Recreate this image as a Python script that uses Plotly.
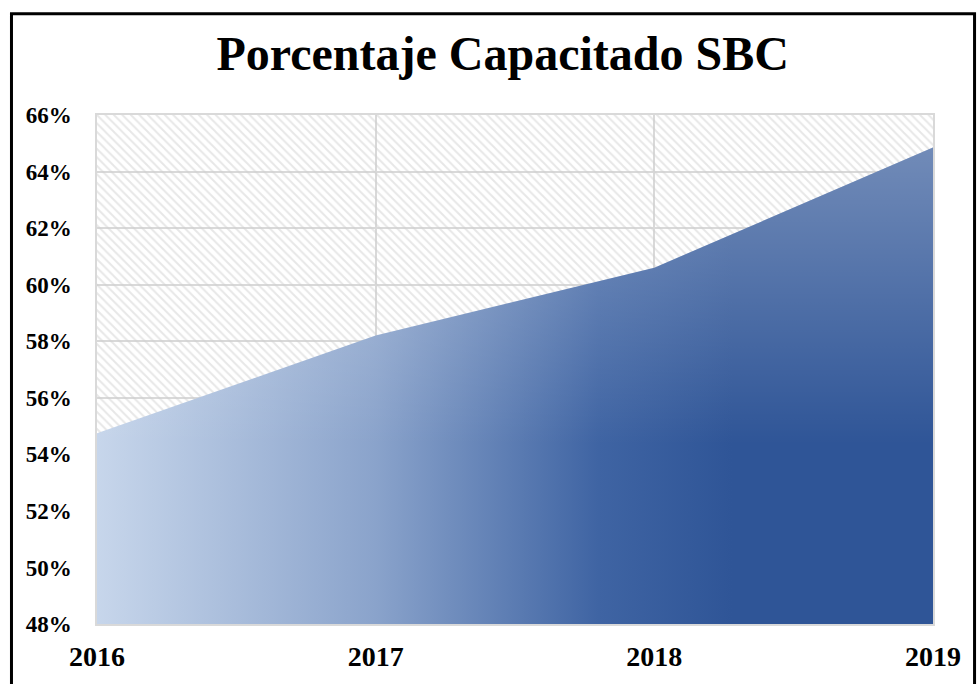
import plotly.graph_objects as go

# Share of staff trained (SBC), by year
years = [2016, 2017, 2018, 2019]
porcentaje = [54.75, 58.2, 60.6, 64.85]

y_ticks = [48, 50, 52, 54, 56, 58, 60, 62, 64, 66]
y_tick_labels = ["48%", "50%", "52%", "54%", "56%", "58%", "60%", "62%", "64%", "66%"]
x_tick_labels = ["2016", "2017", "2018", "2019"]

X_MIN, X_MAX = years[0], years[-1]
Y_MIN, Y_MAX = y_ticks[0], y_ticks[-1]

serif = "Liberation Serif, DejaVu Serif, serif"
grid = "#d9d9d9"

fig = go.Figure()

# Hatched background across the whole plotting region
fig.add_trace(go.Scatter(
    x=[X_MIN, X_MAX, X_MAX, X_MIN, X_MIN],
    y=[Y_MIN, Y_MIN, Y_MAX, Y_MAX, Y_MIN],
    mode="none",
    fill="toself",
    fillcolor="rgba(0,0,0,0)",
    fillpattern=dict(shape="\\", fgcolor="#cfcfcf", bgcolor="rgba(0,0,0,0)",
                     size=6, solidity=0.32),
    hoverinfo="skip",
    showlegend=False,
))

# Main area: light-to-dark blue running left to right
fig.add_trace(go.Scatter(
    x=years,
    y=porcentaje,
    mode="none",
    fill="tozeroy",
    fillgradient=dict(
        type="horizontal",
        start=X_MIN,
        stop=X_MAX,
        colorscale=[
            [0.0, "#c7d6eb"],
            [0.333, "#8aa3cb"],
            [0.60, "#3f64a3"],
            [0.76, "#2f5597"],
            [1.0, "#2f5597"],
        ],
    ),
    hoverinfo="skip",
    showlegend=False,
))

# Soft highlight toward the top of the area
fig.add_trace(go.Scatter(
    x=years,
    y=porcentaje,
    mode="none",
    fill="tozeroy",
    fillgradient=dict(
        type="vertical",
        start=Y_MIN,
        stop=Y_MAX,
        colorscale=[
            [0.0, "rgba(255,255,255,0)"],
            [0.36, "rgba(255,255,255,0)"],
            [0.94, "rgba(255,255,255,0.32)"],
            [1.0, "rgba(255,255,255,0.34)"],
        ],
    ),
    hoverinfo="skip",
    showlegend=False,
))

fig.update_layout(
    width=978,
    height=684,
    margin=dict(l=97, r=45, t=115, b=54),
    paper_bgcolor="white",
    plot_bgcolor="white",
    title=dict(
        text="<b>Porcentaje Capacitado SBC</b>",
        font=dict(family=serif, size=48, color="black"),
        x=0.514, xanchor="center",
        y=0.922, yanchor="middle",
    ),
    xaxis=dict(
        range=[X_MIN, X_MAX],
        tickmode="array",
        tickvals=years,
        ticktext=[f"<b>{t}</b>" for t in x_tick_labels],
        tickfont=dict(family=serif, size=28, color="black"),
        showgrid=True, gridcolor=grid, gridwidth=1.5,
        showline=True, mirror=True, linecolor=grid, linewidth=1.5,
        zeroline=False,
        ticks="", ticklabelstandoff=7,
        fixedrange=True,
    ),
    yaxis=dict(
        range=[Y_MIN, Y_MAX],
        tickmode="array",
        tickvals=y_ticks,
        ticktext=[f"<b>{t}</b>" for t in y_tick_labels],
        tickfont=dict(family=serif, size=23, color="black"),
        showgrid=True, gridcolor=grid, gridwidth=1.5,
        showline=True, mirror=True, linecolor=grid, linewidth=1.5,
        zeroline=False,
        ticks="", ticklabelstandoff=19,
        fixedrange=True,
    ),
    shapes=[
        # black frame around the chart
        dict(type="rect", xref="paper", yref="paper",
             x0=-0.1023, x1=1.0497, y0=-0.2, y1=1.199,
             line=dict(color="black", width=3), fillcolor="rgba(0,0,0,0)",
             layer="above"),
    ],
)

fig.write_html("out.html")
